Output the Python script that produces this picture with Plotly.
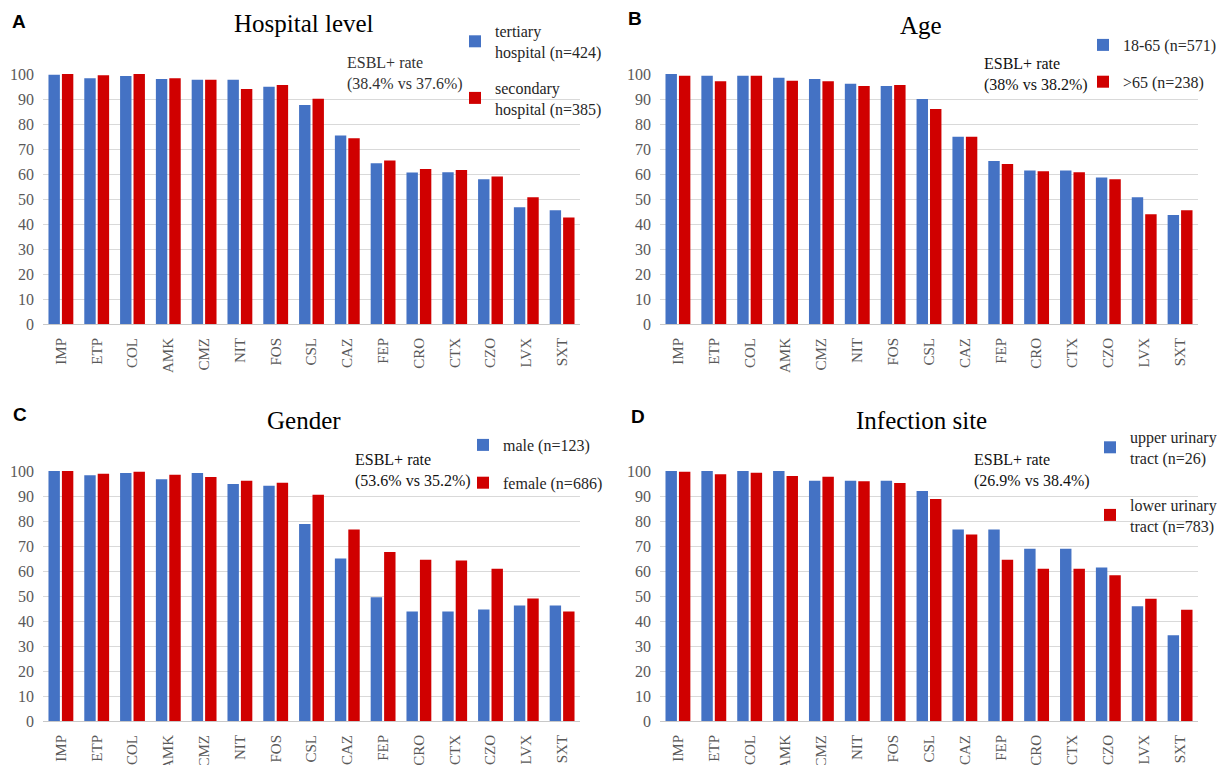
import plotly.graph_objects as go
from plotly.subplots import make_subplots

categories = ["IMP", "ETP", "COL", "AMK", "CMZ", "NIT", "FOS", "CSL",
              "CAZ", "FEP", "CRO", "CTX", "CZO", "LVX", "SXT"]

hospital_tertiary = [99.7, 98.3, 99.2, 98.0, 97.7, 97.7, 94.9, 87.6, 75.4, 64.3, 60.6, 60.7, 57.9, 46.7, 45.5]
hospital_secondary = [100, 99.5, 100, 98.3, 97.7, 94.0, 95.6, 90.1, 74.3, 65.4, 62.0, 61.6, 59.0, 50.7, 42.6]
age_18_65 = [100, 99.3, 99.3, 98.5, 98.0, 96.1, 95.2, 90.0, 74.9, 65.2, 61.4, 61.4, 58.6, 50.7, 43.6]
age_over_65 = [99.3, 97.1, 99.3, 97.3, 97.1, 95.2, 95.6, 86.0, 74.9, 64.0, 61.1, 60.7, 57.9, 43.9, 45.5]
gender_male = [100, 98.3, 99.2, 96.7, 99.2, 94.8, 94.1, 78.8, 65.0, 49.5, 43.8, 43.8, 44.6, 46.2, 46.2]
gender_female = [100, 98.9, 99.7, 98.5, 97.6, 96.1, 95.3, 90.5, 76.6, 67.6, 64.5, 64.2, 60.9, 49.0, 43.8]
site_upper = [100, 100, 100, 100, 96.1, 96.1, 96.1, 92.0, 76.6, 76.6, 68.9, 68.9, 61.4, 45.9, 34.3]
site_lower = [99.7, 98.7, 99.3, 98.0, 97.7, 95.9, 95.2, 88.8, 74.6, 64.5, 60.9, 60.9, 58.3, 48.9, 44.5]

panel_titles = ["Hospital level", "Age", "Gender", "Infection site"]
panel_letters = ["A", "B", "C", "D"]
esbl_texts = ["ESBL+ rate<br>(38.4% vs 37.6%)", "ESBL+ rate<br>(38% vs 38.2%)",
              "ESBL+ rate<br>(53.6% vs 35.2%)", "ESBL+ rate<br>(26.9% vs 38.4%)"]
series_names = [("tertiary<br>hospital (n=424)", "secondary<br>hospital (n=385)"),
                ("18-65 (n=571)", ">65 (n=238)"),
                ("male (n=123)", "female (n=686)"),
                ("upper urinary<br>tract (n=26)", "lower urinary<br>tract (n=783)")]
series_values = [(hospital_tertiary, hospital_secondary), (age_18_65, age_over_65),
                 (gender_male, gender_female), (site_upper, site_lower)]

BLUE = "#4472C4"
RED = "#D00000"
SERIF = "Liberation Serif"
SANS = "Liberation Sans"
W, H = 1225, 765
OFF = 8  # page body margin offset

def px_x(v):
    return (v - OFF) / W

def px_y(v):
    return 1 - (v - OFF) / H

# plot area geometry in window pixels (left, right, top, bottom)
areas = [(43, 580, 74, 324), (660, 1198, 74, 324), (43, 580, 471, 721), (660, 1198, 471, 721)]
title_pos = [(304, 23), (921, 25), (304, 420), (921, 420)]
letter_pos = [(19, 21), (635, 19), (20, 414), (638, 416)]
esbl_pos = [(345, 73), (982, 74), (353, 470), (972, 470)]
legend_pos = [(455, 14), (1083, 28), (463, 428), (1090, 420)]
legend_gaps = [12, 13, 14, 23]

fig = make_subplots(rows=2, cols=2)

for i in range(4):
    r, c = i // 2 + 1, i % 2 + 1
    lname = "legend" if i == 0 else f"legend{i+1}"
    for j, color in enumerate([BLUE, RED]):
        fig.add_trace(go.Bar(x=categories, y=series_values[i][j], name=series_names[i][j],
                             marker=dict(color=color, line=dict(width=0)),
                             legend=lname, legendgroup=f"g{i}_{j}"),
                      row=r, col=c)

layout_upd = dict(
    width=W, height=H, autosize=False,
    margin=dict(l=0, r=0, t=0, b=0, autoexpand=False),
    paper_bgcolor="white", plot_bgcolor="white",
    barmode="group", bargap=0.25, bargroupgap=0.15,
    font=dict(family=SERIF, color="#595959"),
)

for i in range(4):
    l, rgt, t, b = areas[i]
    sfx = "" if i == 0 else str(i + 1)
    layout_upd["xaxis" + sfx] = dict(
        domain=[px_x(l), px_x(rgt)], tickangle=-90, showgrid=False,
        showline=False, ticks="", ticklabelstandoff=10, automargin=False,
        tickfont=dict(family=SERIF, size=15, color="#595959"), fixedrange=True)
    layout_upd["yaxis" + sfx] = dict(
        domain=[px_y(b), px_y(t)], range=[0, 100], dtick=10, showgrid=True,
        gridcolor="#D9D9D9", gridwidth=1, zeroline=True, zerolinecolor="#C8C8C8",
        zerolinewidth=1, showline=False, ticks="", ticklabelstandoff=8, automargin=False,
        tickfont=dict(family=SERIF, size=16, color="#595959"), fixedrange=True)
    lx, ly = legend_pos[i]
    layout_upd["legend" if i == 0 else f"legend{i+1}"] = dict(
        x=px_x(lx), y=px_y(ly), xanchor="left", yanchor="top",
        bgcolor="rgba(0,0,0,0)", borderwidth=0,
        font=dict(family=SERIF, size=16, color="#262626"),
        traceorder="grouped", tracegroupgap=legend_gaps[i])

fig.update_layout(**layout_upd)

annotations = []
for i in range(4):
    tx, ty = title_pos[i]
    annotations.append(dict(text=panel_titles[i], x=px_x(tx), y=px_y(ty), xref="paper", yref="paper",
                            xanchor="center", yanchor="middle", showarrow=False,
                            font=dict(family=SERIF, size=25, color="#000000")))
    lx, ly = letter_pos[i]
    annotations.append(dict(text="<b>" + panel_letters[i] + "</b>", x=px_x(lx), y=px_y(ly),
                            xref="paper", yref="paper", xanchor="center", yanchor="middle",
                            showarrow=False,
                            font=dict(family=SANS, size=19, color="#000000")))
    ex, ey = esbl_pos[i]
    annotations.append(dict(text=esbl_texts[i], x=px_x(ex), y=px_y(ey), xref="paper", yref="paper",
                            xanchor="left", yanchor="middle", align="left", showarrow=False,
                            font=dict(family=SERIF, size=16,
                                      color="#333333" if i == 0 else "#111111")))
fig.update_layout(annotations=annotations)

fig.write_html("out.html")
